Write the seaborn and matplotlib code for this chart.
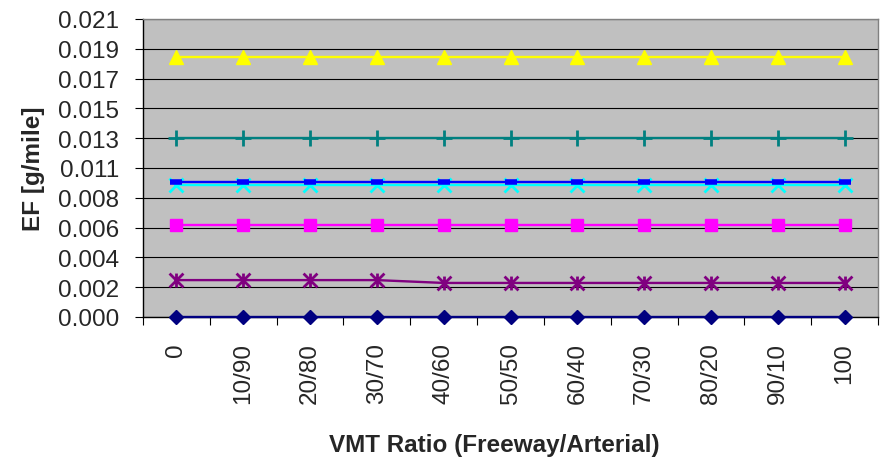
import numpy as np
import pandas as pd
import matplotlib
matplotlib.use("Agg")
import matplotlib.pyplot as plt
from matplotlib.path import Path
import seaborn as sns

# VMT split categories (freeway share / arterial share)
categories = ["0", "10/90", "20/80", "30/70", "40/60", "50/50",
              "60/40", "70/30", "80/20", "90/10", "100"]

# Emission factors [g/mile] per series
ef_navy = [0.0] * 11
ef_magenta = [0.0065] * 11
ef_yellow = [0.0183] * 11
ef_cyan = [0.0093] * 11
ef_purple = [0.0026, 0.0026, 0.0026, 0.0026, 0.0024, 0.0024,
             0.0024, 0.0024, 0.0024, 0.0024, 0.0024]
ef_teal = [0.0126] * 11
ef_blue = [0.0095] * 11

# Y axis gridline values and their printed labels
y_ticks = [0.0, 0.0021, 0.0042, 0.0063, 0.0084, 0.0105,
           0.0126, 0.0147, 0.0168, 0.0189, 0.021]
y_tick_labels = ["0.000", "0.002", "0.004", "0.006", "0.008", "0.011",
                 "0.013", "0.015", "0.017", "0.019", "0.021"]

# Excel-like asterisk: an X with a vertical stroke
asterisk = Path([(-1, -1), (1, 1), (-1, 1), (1, -1), (0, -1), (0, 1)],
                [Path.MOVETO, Path.LINETO, Path.MOVETO, Path.LINETO,
                 Path.MOVETO, Path.LINETO])

series = [
    ("navy", ef_navy, "#000080", "D", 7.5, 1.0),
    ("magenta", ef_magenta, "#FF00FF", "s", 8.5, 1.0),
    ("yellow", ef_yellow, "#FFFF00", "^", 10, 1.0),
    ("cyan", ef_cyan, "#00FFFF", "x", 10, 2.0),
    ("purple", ef_purple, "#800080", asterisk, 10, 2.0),
    ("teal", ef_teal, "#008080", "+", 11, 2.0),
    ("blue", ef_blue, "#0000FF", "_", 8, 4.0),
]

sns.set_style("white")
plt.rcParams["font.family"] = ["Liberation Sans", "DejaVu Sans"]

fig = plt.figure(figsize=(8.94, 4.64), dpi=100)
ax = fig.add_axes([143 / 894, (464 - 318) / 464, 735 / 894, 298 / 464])
ax.set_facecolor("#C0C0C0")

x_pos = np.arange(len(categories))
for name, vals, color, marker, ms, mew in series:
    df = pd.DataFrame({"x": x_pos, "ef": vals})
    sns.lineplot(data=df, x="x", y="ef", ax=ax, color=color, linewidth=1.7,
                 marker=marker, markersize=ms, markeredgecolor=color,
                 markerfacecolor=color, markeredgewidth=mew, zorder=3,
                 clip_on=False)

ax.set_xlim(-0.5, len(categories) - 0.5)
ax.set_ylim(0, 0.021)

ax.set_yticks(y_ticks)
ax.set_yticklabels(y_tick_labels, fontsize=17.5)
ax.grid(axis="y", color="black", linewidth=0.8)
ax.set_axisbelow(True)

ax.set_xticks(x_pos)
ax.set_xticklabels(categories, rotation=90, fontsize=17.5)
ax.set_xticks(np.arange(-0.5, len(categories), 1.0), minor=True)
ax.tick_params(axis="x", which="major", length=0, pad=18)
ax.tick_params(axis="x", which="minor", length=6, width=0.8,
               color="black", direction="out", bottom=True)
ax.tick_params(axis="y", which="major", length=6, width=0.8,
               color="black", direction="out", left=True, pad=11)

for side in ("left", "bottom"):
    ax.spines[side].set_color("black")
    ax.spines[side].set_linewidth(1.0)
for side in ("top", "right"):
    ax.spines[side].set_color("#808080")
    ax.spines[side].set_linewidth(1.0)

ax.set_xlabel("VMT Ratio (Freeway/Arterial)", fontsize=17.5, fontweight="bold")
ax.set_ylabel("EF [g/mile]", fontsize=17.5, fontweight="bold")
ax.xaxis.set_label_coords((494 - 143) / 735, (318 - 434) / 298)
ax.yaxis.set_label_coords((45 - 143) / 735, 0.5)

fig.savefig("out.png", dpi=100, facecolor="white")
